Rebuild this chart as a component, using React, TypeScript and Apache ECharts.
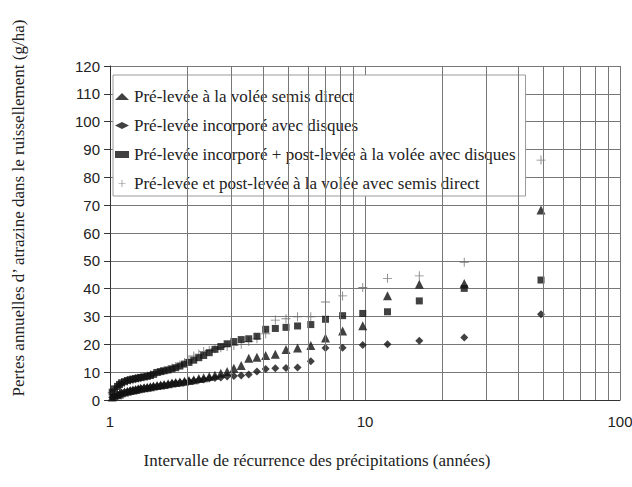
import React, { useEffect, useRef } from "react";
import * as echarts from "echarts";

// Recurrence interval (years) of each ranked event
const recurrenceYears = [
  49, 24.5, 16.33, 12.25, 9.8, 8.17, 7.0, 6.13, 5.44, 4.9, 4.45, 4.08, 3.77, 3.5, 3.27, 3.06,
  2.88, 2.72, 2.58, 2.45, 2.33, 2.23, 2.13, 2.04, 1.96, 1.88, 1.81, 1.75, 1.69, 1.63, 1.58, 1.53,
  1.48, 1.44, 1.4, 1.36, 1.32, 1.29, 1.26, 1.23, 1.2, 1.17, 1.14, 1.11, 1.09, 1.07, 1.04, 1.02,
];

// Pré-levée à la volée semis direct (triangles)
const triangleValues = [
  68.3, 41.9, 41.6, 37.5, 26.7, 24.8, 22.3, 19.6, 18.7, 18.1, 16.4, 16.0, 15.4, 15.0, 12.4, 11.4,
  10.2, 9.6, 8.9, 8.4, 8.0, 7.7, 7.3, 7.0, 6.7, 6.5, 6.3, 6.1, 5.8, 5.6, 5.4, 5.2,
  5.0, 4.8, 4.6, 4.4, 4.2, 4.0, 3.8, 3.6, 3.4, 3.1, 2.9, 2.6, 2.2, 1.9, 1.5, 1.1,
];

// Pré-levée incorporé avec disques (diamonds)
const diamondValues = [
  30.8, 22.5, 21.3, 20.0, 19.8, 18.8, 18.7, 13.9, 11.7, 11.5, 11.4, 11.1, 10.2, 9.2, 8.8, 8.6,
  8.4, 8.1, 7.9, 7.7, 7.4, 7.2, 6.9, 6.7, 6.5, 6.3, 6.1, 5.9, 5.6, 5.4, 5.2, 5.0,
  4.8, 4.6, 4.4, 4.3, 4.1, 3.9, 3.7, 3.5, 3.3, 3.0, 2.8, 2.5, 2.1, 1.8, 1.4, 1.0,
];

// Pré-levée incorporé + post-levée à la volée avec disques (squares)
const squareValues = [
  43.1, 40.1, 35.6, 31.7, 31.1, 30.3, 29.0, 27.1, 26.6, 26.1, 25.7, 25.4, 22.9, 22.0, 21.7, 21.0,
  20.2, 19.2, 18.2, 17.0, 16.0, 15.2, 14.3, 13.5, 12.9, 12.2, 11.6, 11.2, 10.8, 10.5, 10.2, 9.9,
  9.2, 8.8, 8.5, 8.3, 8.1, 7.9, 7.7, 7.5, 7.3, 7.0, 6.6, 6.2, 5.6, 4.9, 4.0, 2.8,
];

// Pré-levée et post-levée à la volée avec semis direct (plus signs)
const plusValues = [
  86.2, 49.5, 44.6, 43.7, 40.4, 37.4, 35.2, 29.9, 29.9, 29.2, 28.7, 23.8, 22.0, 21.0, 20.0, 19.6,
  19.2, 18.8, 18.4, 17.8, 17.4, 16.5, 15.8, 14.5, 13.5, 12.6, 12.0, 11.5, 11.0, 10.6, 10.2, 9.8,
  9.4, 9.0, 8.6, 8.3, 8.0, 7.8, 7.6, 7.3, 7.1, 6.8, 6.4, 6.0, 5.3, 4.6, 3.8, 2.6,
];

const seriesNames = [
  "Pré-levée à la volée semis direct",
  "Pré-levée incorporé avec disques",
  "Pré-levée incorporé + post-levée à la volée avec disques",
  "Pré-levée et post-levée à la volée avec semis direct",
];

// Minor log grid lines of the x axis
const minorGridYears = [2, 3, 4, 5, 6, 7, 8, 9, 20, 30, 40, 50, 60, 70, 80, 90];

const yAxisTitle = "Pertes annuelles d\u2019 atrazine dans le ruissellement (g/ha)";
const xAxisTitle = "Intervalle de récurrence des précipitations (années)";

const PLUS_PATH = "path://M9,0H11V9H20V11H11V20H9V11H0V9H9Z";

const toPoints = (vals: number[]) => recurrenceYears.map((x, i) => [x, vals[i]]);

export default function App() {
  const ref = useRef<HTMLDivElement>(null);

  useEffect(() => {
    if (!ref.current) return;
    const chart = echarts.init(ref.current, null, { renderer: "svg" });
    const serif = "Liberation Serif";
    const sans = "Liberation Sans";
    const gridColor = "#777777";

    chart.setOption({
      animation: false,
      backgroundColor: "#ffffff",
      grid: {
        left: 110,
        right: 12,
        top: 66,
        bottom: 87,
        containLabel: false,
        outerBoundsMode: "none",
      },
      xAxis: {
        type: "log",
        logBase: 10,
        min: 1,
        max: 100,
        axisLine: { show: true, lineStyle: { color: "#333", width: 1 } },
        axisTick: { show: false },
        axisLabel: { fontFamily: sans, fontSize: 15, color: "#222", margin: 14 },
        splitLine: { show: true, lineStyle: { color: gridColor, width: 1 } },
        minorTick: { show: false },
      },
      yAxis: {
        type: "value",
        min: 0,
        max: 120,
        interval: 10,
        axisLine: { show: true, lineStyle: { color: "#333", width: 1 } },
        axisTick: { show: true, length: 6, lineStyle: { color: "#333" } },
        axisLabel: { fontFamily: sans, fontSize: 15, color: "#222", margin: 10 },
        splitLine: { show: true, lineStyle: { color: gridColor, width: 1 } },
      },
      legend: {
        show: true,
        orient: "vertical",
        left: 113,
        top: 75,
        padding: [13, 10, 4, 2],
        itemGap: 12,
        itemWidth: 14,
        itemHeight: 7,
        backgroundColor: "#ffffff",
        borderColor: "#9a9a9a",
        borderWidth: 1,
        selectedMode: false,
        textStyle: { fontFamily: serif, fontSize: 17, color: "#222", lineHeight: 17 },
        data: [
          { name: seriesNames[0], icon: "triangle" },
          { name: seriesNames[1], icon: "diamond" },
          { name: seriesNames[2], icon: "rect" },
          { name: seriesNames[3], icon: PLUS_PATH },
        ],
      },
      graphic: [
        {
          type: "text",
          x: 18,
          y: 208,
          rotation: Math.PI / 2,
          style: {
            text: yAxisTitle,
            fontFamily: serif,
            fontSize: 17,
            fill: "#222",
            textAlign: "center",
            textVerticalAlign: "middle",
            align: "center",
            verticalAlign: "middle",
          },
        },
        {
          type: "text",
          x: 317,
          y: 460,
          style: {
            text: xAxisTitle,
            fontFamily: serif,
            fontSize: 17,
            fill: "#222",
            textAlign: "center",
            textVerticalAlign: "middle",
            align: "center",
            verticalAlign: "middle",
          },
        },
      ],
      series: [
        {
          name: "_minorGrid",
          type: "scatter",
          data: [],
          silent: true,
          z: 1,
          markLine: {
            silent: true,
            symbol: "none",
            label: { show: false },
            lineStyle: { color: gridColor, width: 1, type: "solid" },
            data: minorGridYears.map((v) => ({ xAxis: v })),
          },
        },
        {
          name: seriesNames[3],
          type: "scatter",
          z: 3,
          symbol: PLUS_PATH,
          symbolSize: 9,
          itemStyle: { color: "#666" },
          data: toPoints(plusValues),
        },
        {
          name: seriesNames[1],
          type: "scatter",
          z: 3,
          symbol: "diamond",
          symbolSize: 8,
          itemStyle: { color: "#111" },
          data: toPoints(diamondValues),
        },
        {
          name: seriesNames[0],
          type: "scatter",
          z: 3,
          symbol: "triangle",
          symbolSize: 9,
          itemStyle: { color: "#111" },
          data: toPoints(triangleValues),
        },
        {
          name: seriesNames[2],
          type: "scatter",
          z: 3,
          symbol: "rect",
          symbolSize: 7,
          itemStyle: { color: "#111" },
          data: toPoints(squareValues),
        },
      ],
    });

    return () => chart.dispose();
  }, []);

  return (
    <div
      ref={ref}
      style={{ position: "fixed", left: 0, top: 0, width: 632, height: 487, background: "#fff" }}
    />
  );
}
